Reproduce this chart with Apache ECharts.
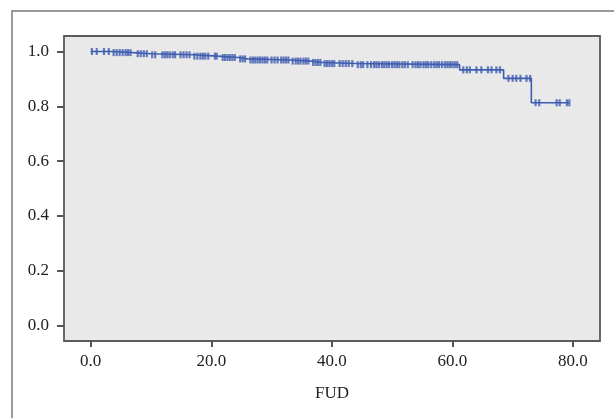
<!DOCTYPE html>
<html>
<head>
<meta charset="utf-8">
<script src="https://cdn.jsdelivr.net/npm/echarts@6/dist/echarts.min.js"></script>
<style>
html,body{margin:0;padding:0;background:#fff;}
#chart{width:614px;height:418px;}
</style>
</head>
<body>
<div id="chart"></div>
<script>
// Kaplan-Meier step function: event times and survival level after each event
const stepTimes = [0, 3.5, 7, 10, 17, 21, 24.5, 26, 33, 36.5, 38.5, 44, 61.2, 68.5, 73.1];
const survival  = [1.0, 0.996, 0.992, 0.988, 0.983, 0.978, 0.973, 0.969, 0.965, 0.960, 0.956, 0.952, 0.933, 0.902, 0.813];
const lastTime = 79.4;
// censored times, grouped by the survival level they sit on
const censorTimes = [
  [0.2, 1.0, 2.2, 3.0],
  [3.8, 4.3, 4.8, 5.3, 5.8, 6.2, 6.6],
  [7.8, 8.3, 8.8, 9.3],
  [10.2, 10.7, 11.9, 12.3, 12.7, 13.1, 13.6, 14.0, 14.9, 15.4, 15.9, 16.4],
  [17.2, 17.7, 18.2, 18.6, 19.0, 19.5, 20.6, 20.9],
  [21.9, 22.3, 22.7, 23.1, 23.5, 23.9],
  [24.8, 25.2, 25.6],
  [26.5, 26.9, 27.3, 27.7, 28.1, 28.5, 28.9, 29.3, 30.0, 30.5, 31.0, 31.6, 32.0, 32.4, 32.8],
  [33.5, 34.0, 34.4, 34.8, 35.3, 35.7, 36.1],
  [36.9, 37.3, 37.7, 38.1],
  [38.8, 39.2, 39.6, 40.0, 40.4, 41.3, 41.8, 42.3, 42.8, 43.4],
  [44.3, 44.8, 45.2, 45.9, 46.5, 47.0, 47.4, 47.8, 48.3, 48.7, 49.1, 49.5, 50.0, 50.4, 50.8, 51.2, 51.7, 52.1, 52.6, 53.4, 53.9, 54.3, 54.7, 55.2, 55.6, 56.0, 56.5, 57.0, 57.4, 57.8, 58.3, 58.8, 59.2, 59.6, 60.0, 60.4, 60.8],
  [61.8, 62.4, 62.9, 64.0, 64.8, 65.9, 66.5, 67.3, 67.9],
  [69.3, 70.0, 70.6, 71.3, 72.3, 72.9],
  [73.8, 74.4, 77.3, 77.8, 79.0, 79.4]
];
const xTicks = [0, 20, 40, 60, 80];
const yTicks = [0, 0.2, 0.4, 0.6, 0.8, 1.0];
const xRange = [-4.43, 84.49];
const yRange = [-0.0558, 1.0565];
const xName = 'FUD';

const lineData = stepTimes.map((t, i) => [t, survival[i]]);
lineData.push([lastTime, survival[survival.length - 1]]);
const censorData = [];
censorTimes.forEach((arr, i) => arr.forEach(t => censorData.push([t, survival[i]])));

const curveColor = '#3f5db0';
const axisColor = '#555';
const font = '"Liberation Serif", "DejaVu Serif", serif';

const chart = echarts.init(document.getElementById('chart'));
chart.setOption({
  animation: false,
  backgroundColor: '#fff',
  graphic: [
    { type: 'rect', z: -10, shape: { x: 12, y: 11, width: 700, height: 500 },
      style: { fill: 'none', stroke: '#7a7a7a', lineWidth: 1.5 } }
  ],
  grid: { left: 64, right: 14, top: 36, bottom: 77, show: true,
    backgroundColor: '#e9e9e9', borderColor: '#5a5a5a', borderWidth: 1.8 },
  xAxis: {
    type: 'value', min: xRange[0], max: xRange[1],
    axisLine: { show: false, onZero: false },
    axisTick: { show: true, customValues: xTicks, length: 6, lineStyle: { color: axisColor, width: 2 } },
    splitLine: { show: false },
    axisLabel: { customValues: xTicks, margin: 12, fontFamily: font, fontSize: 17, color: '#222',
      formatter: v => Number(v).toFixed(1) },
    name: xName, nameLocation: 'middle', nameGap: 44,
    nameTextStyle: { fontFamily: font, fontSize: 17, color: '#222' }
  },
  yAxis: {
    type: 'value', min: yRange[0], max: yRange[1],
    axisLine: { show: false, onZero: false },
    axisTick: { show: true, customValues: yTicks, length: 7, lineStyle: { color: axisColor, width: 2 } },
    splitLine: { show: false },
    axisLabel: { customValues: yTicks, margin: 15, fontFamily: font, fontSize: 17, color: '#222',
      formatter: v => Number(v).toFixed(1) }
  },
  series: [
    { type: 'line', step: 'end', data: lineData, showSymbol: false, symbol: 'none',
      lineStyle: { color: curveColor, width: 1.6 }, z: 3 },
    { type: 'scatter', data: censorData, symbol: 'rect', symbolSize: [2.2, 7],
      itemStyle: { color: curveColor }, z: 4 }
  ]
});
</script>
</body>
</html>
